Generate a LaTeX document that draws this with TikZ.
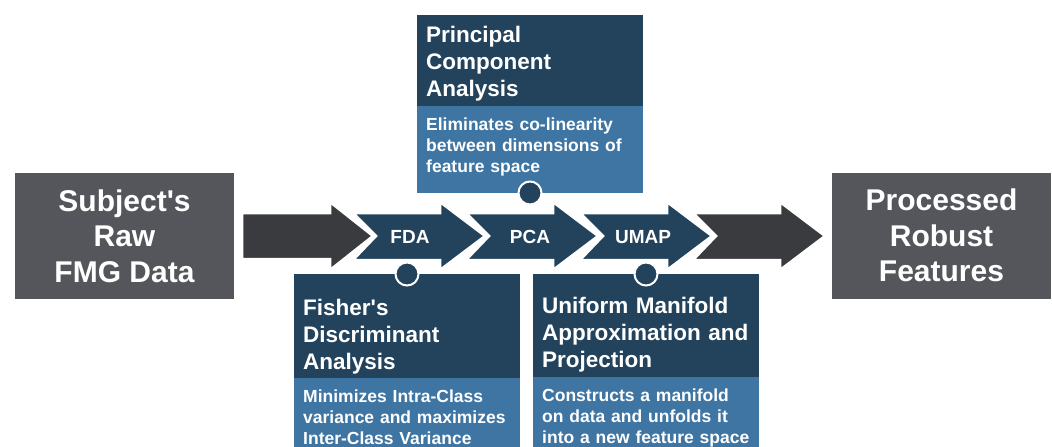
\documentclass[tikz,border=0pt]{standalone}
\usepackage{fontspec}
\setmainfont{Liberation Sans}
\usepackage{tikz}
\usetikzlibrary{positioning}
\definecolor{navy}{HTML}{23435C}
\definecolor{steel}{HTML}{3E75A3}
\definecolor{slate}{HTML}{54565C}
\definecolor{coal}{HTML}{393B3F}
\tikzset{endbox/.style={rectangle, fill=slate, text=white, align=center, minimum width=219pt, minimum height=126pt, font=\bfseries\fontsize{30}{35.5}\selectfont}}
\tikzset{chevron/.style={fill=navy, draw=white, line width=2.5pt, line join=miter}}
\tikzset{steplabel/.style={text=white, anchor=base, font=\bfseries\fontsize{19}{22}\selectfont}}
\tikzset{titletext/.style={text=white, anchor=base west, inner sep=0pt, text width=215pt, align=left, font=\bfseries\fontsize{22.5}{27}\selectfont}}
\tikzset{desctext/.style={text=white, anchor=base west, inner sep=0pt, text width=215pt, align=left, font=\bfseries\fontsize{17.5}{21}\selectfont}}
\tikzset{knob/.style={circle, fill=navy, draw=white, line width=2pt, minimum size=23pt, inner sep=0pt}}

\begin{document}
\begin{tikzpicture}[x=1pt,y=-1pt]
    \useasboundingbox (0,0) rectangle (1052,447);
    % input and output
    \node[endbox] (raw) at (124.5,236) {Subject\textquotesingle s\\Raw\\FMG Data};
    \node[endbox] (robust) at (941.5,235.5) {Processed\\Robust\\Features};
    % arrow chain
    \filldraw[chevron, fill=coal] (242,213) -- (330,213) -- (330,202) -- (373,236)
      -- (330,270) -- (330,259) -- (242,259) -- cycle;
    \foreach \L/\col in {353/navy, 466/navy, 580/navy, 693/coal} {
      \filldraw[chevron, fill=\col] (\L,213) -- ({\L+87},213) -- ({\L+87},202)
        -- ({\L+132},236) -- ({\L+87},270) -- ({\L+87},260) -- (\L,260)
        -- ({\L+23},236) -- cycle;
    }
    \foreach \x/\lab/\tx in {410/fda/FDA, 530/pca/PCA, 643/umap/UMAP} {
      \node[steplabel] (\lab-step) at (\x,243) {\tx};
    }
    % callout boxes
    \foreach \lab/\x/\top/\split/\bot/\tb/\dot/\title/\desc in {
      pca/417/15/106/193/42/193/{Principal\\Component\\Analysis}/{Eliminates co-linearity\\between dimensions of\\feature space},
      fda/294/274/378/447/315/274/{Fisher\textquotesingle s\\Discriminant\\Analysis}/{Minimizes Intra-Class\\variance and maximizes\\Inter-Class Variance},
      umap/533/274/377/447/313/274/{Uniform Manifold\\Approximation and\\Projection}/{Constructs a manifold\\on data and unfolds it\\into a new feature space}%
    } {
      \fill[navy] (\x,\top) rectangle ({\x+226},\split);
      \fill[steel] (\x,\split) rectangle ({\x+226},\bot);
      \node[titletext] (\lab-title) at ({\x+9},\tb) {\title};
      \node[desctext] (\lab-desc) at ({\x+9},{\split+24}) {\desc};
      \node[knob] (\lab-dot) at ({\x+113},\dot) {};
    }
  \end{tikzpicture}
\end{document}
